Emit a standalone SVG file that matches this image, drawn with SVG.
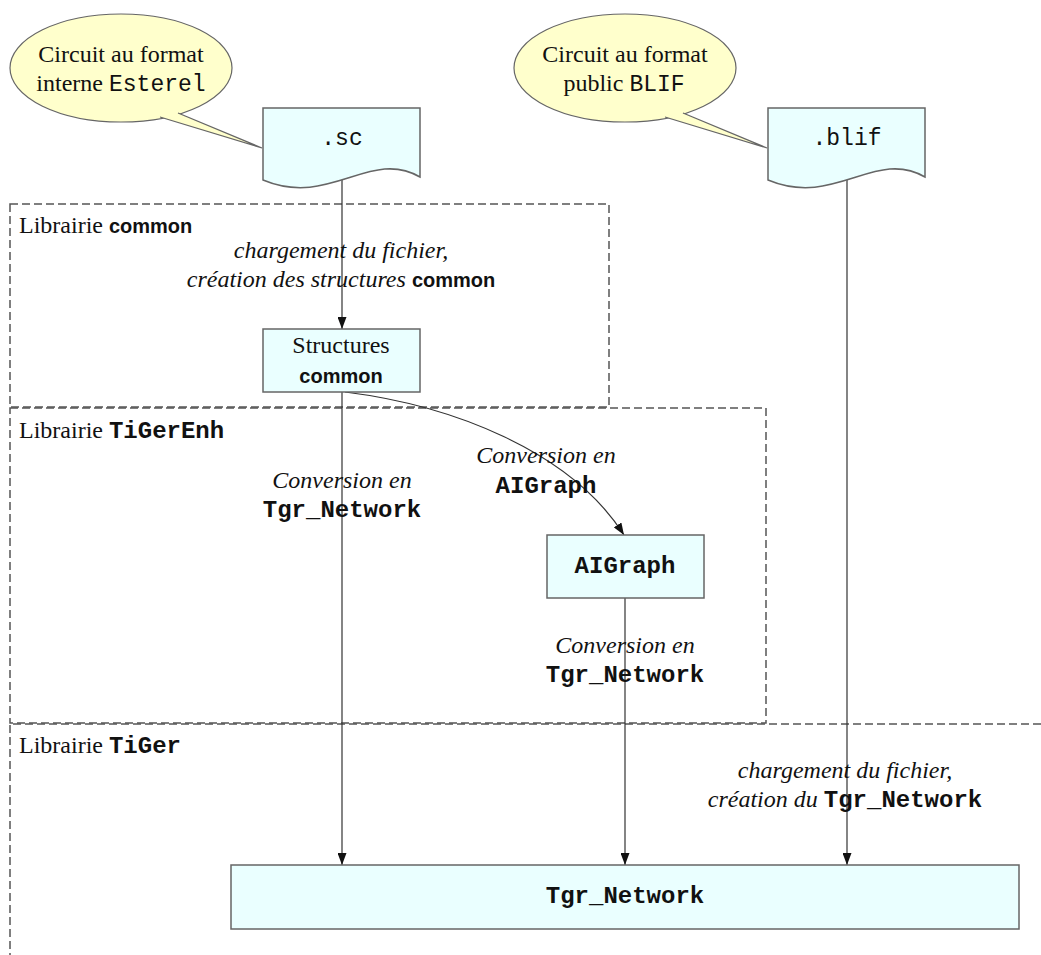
<svg xmlns="http://www.w3.org/2000/svg" width="1041" height="955" viewBox="0 0 1041 955">
<style>
.bg{fill:#ffffff}
.zone{fill:none;stroke:#555;stroke-width:1.5;stroke-dasharray:8 4}
.callout{fill:#ffffcc;stroke:#666;stroke-width:1.2}
.box{fill:#eaffff;stroke:#666;stroke-width:1.5}
.conn{fill:none;stroke:#333;stroke-width:1.2}
.serif{font-family:"Liberation Serif","Times New Roman",serif;font-size:24px;fill:#111}
.it{font-style:italic}
.mono{font-family:"Liberation Mono","Courier New",monospace;font-size:23px}
.monob{font-family:"Liberation Mono","Courier New",monospace;font-size:24px;font-weight:bold;font-style:normal}
.sansb{font-family:"Liberation Sans",Arial,sans-serif;font-size:20px;font-weight:bold;font-style:normal}
.mid{text-anchor:middle}
</style>
<defs>
<marker id="arrow" markerUnits="userSpaceOnUse" markerWidth="12" markerHeight="9" refX="12" refY="4.5" orient="auto">
<path d="M0,0 L12,4.5 L0,9 Z" fill="#111"/>
</marker>
</defs>
<rect class="bg" x="0" y="0" width="1041" height="955"/>

<g id="zones">
<rect id="zone-common" class="zone" x="10" y="204" width="599" height="203"/>
<rect id="zone-tigerenh" class="zone" x="10" y="408" width="756" height="315"/>
<path id="zone-tiger" class="zone" d="M1041,724 H10 V955"/>
<text class="serif" x="19" y="233">Librairie <tspan class="sansb">common</tspan></text>
<text class="serif" x="19" y="438">Librairie <tspan class="monob">TiGerEnh</tspan></text>
<text class="serif" x="19" y="753">Librairie <tspan class="monob">TiGer</tspan></text>
</g>

<g id="callout-esterel">
<ellipse class="callout" cx="121" cy="68" rx="111" ry="54"/>
<path class="callout" d="M160,117 L262,148 L178,113"/>
<text class="serif mid" x="121" y="62">Circuit au format</text>
<text class="serif mid" x="121" y="91">interne <tspan class="mono">Esterel</tspan></text>
</g>

<g id="callout-blif">
<ellipse class="callout" cx="625" cy="68" rx="111" ry="54"/>
<path class="callout" d="M665,117 L767,148 L683,113"/>
<text class="serif mid" x="625" y="62">Circuit au format</text>
<text class="serif mid" x="624" y="91">public <tspan class="mono">BLIF</tspan></text>
</g>

<g id="connectors">
<line class="conn" x1="342" y1="178" x2="342" y2="329" marker-end="url(#arrow)"/>
<line class="conn" x1="342" y1="392" x2="342" y2="865" marker-end="url(#arrow)"/>
<path class="conn" d="M345,392 C450,405 570,450 624,535" marker-end="url(#arrow)"/>
<line class="conn" x1="625" y1="598" x2="625" y2="865" marker-end="url(#arrow)"/>
<line class="conn" x1="847" y1="178" x2="847" y2="865" marker-end="url(#arrow)"/>
</g>

<g id="labels">
<text class="serif it mid" x="341" y="258">chargement du fichier,</text>
<text class="serif it mid" x="341" y="287">création des structures <tspan class="sansb">common</tspan></text>
<text class="serif it mid" x="342" y="488">Conversion en</text>
<text class="serif mid" x="342" y="517"><tspan class="monob">Tgr_Network</tspan></text>
<text class="serif it mid" x="546" y="463">Conversion en</text>
<text class="serif mid" x="546" y="493"><tspan class="monob">AIGraph</tspan></text>
<text class="serif it mid" x="625" y="653">Conversion en</text>
<text class="serif mid" x="625" y="682"><tspan class="monob">Tgr_Network</tspan></text>
<text class="serif it mid" x="845" y="778">chargement du fichier,</text>
<text class="serif it mid" x="845" y="807">création du <tspan class="monob">Tgr_Network</tspan></text>
</g>

<g id="node-sc">
<path class="box" d="M263,108 H420 V177 C370,148 330,208 263,180 Z"/>
<text class="serif mid" x="342" y="145"><tspan class="mono">.sc</tspan></text>
</g>

<g id="node-blif">
<path class="box" d="M768,108 H925 V177 C875,148 835,208 768,180 Z"/>
<text class="serif mid" x="847" y="145"><tspan class="mono">.blif</tspan></text>
</g>

<g id="node-structures">
<rect class="box" x="263" y="329" width="157" height="63"/>
<text class="serif mid" x="341" y="353">Structures</text>
<text class="serif mid" x="341" y="383"><tspan class="sansb">common</tspan></text>
</g>

<g id="node-aigraph">
<rect class="box" x="547" y="535" width="157" height="63"/>
<text class="serif mid" x="625" y="573"><tspan class="monob">AIGraph</tspan></text>
</g>

<g id="node-tgr">
<rect class="box" x="231" y="865" width="788" height="64"/>
<text class="serif mid" x="625" y="903"><tspan class="monob">Tgr_Network</tspan></text>
</g>
</svg>
